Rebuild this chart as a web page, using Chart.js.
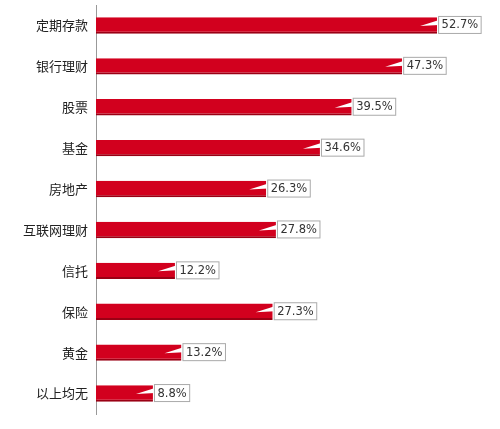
<!DOCTYPE html>
<html>
<head>
<meta charset="utf-8">
<script src="https://cdn.jsdelivr.net/npm/chart.js@4"></script>
<style>
  body { margin: 0; background: #fff; }
  #wrap { width: 500px; height: 429px; }
</style>
</head>
<body>
<div id="wrap"><canvas id="c"></canvas></div>
<script>
const categories = ["定期存款", "银行理财", "股票", "基金", "房地产", "互联网理财", "信托", "保险", "黄金", "以上均无"];
const shares = [52.7, 47.3, 39.5, 34.6, 26.3, 27.8, 12.2, 27.3, 13.2, 8.8];

// callout label boxes at bar ends
const calloutLabels = {
  id: "calloutLabels",
  afterDatasetsDraw(chart) {
    const ctx = chart.ctx;
    const meta = chart.getDatasetMeta(0);
    ctx.save();
    ctx.font = "11.5px 'DejaVu Sans', sans-serif";
    ctx.textBaseline = "middle";
    meta.data.forEach((bar, i) => {
      const txt = shares[i].toFixed(1) + "%";
      const w = ctx.measureText(txt).width + 6;
      const h = 17;
      const x = bar.x + 1, y = bar.y - h / 2 - 1;
      // little pointer
      ctx.fillStyle = "#fff";
      ctx.beginPath();
      ctx.moveTo(x + 1, y + 4);
      ctx.lineTo(x - 18, y + 10);
      ctx.lineTo(x + 1, y + 9);
      ctx.closePath();
      ctx.fill();
      ctx.fillRect(x, y, w, h);
      ctx.strokeStyle = "#aaa";
      ctx.lineWidth = 1;
      ctx.strokeRect(x + 0.5, y + 0.5, w, h);
      ctx.fillStyle = "#333";
      ctx.fillText(txt, x + 3.5, y + h / 2 + 1);
    });
    ctx.restore();
  }
};

new Chart(document.getElementById("c"), {
  type: "bar",
  data: {
    labels: categories,
    datasets: [{
      data: shares,
      backgroundColor: "#d2001e",
      borderColor: "#9a0014",
      borderWidth: { top: 0, bottom: 2, left: 0, right: 0 },
      borderSkipped: false,
      categoryPercentage: 1,
      barPercentage: 0.4
    }]
  },
  options: {
    indexAxis: "y",
    responsive: true,
    maintainAspectRatio: false,
    animation: false,
    layout: { padding: { top: 5, right: 48, bottom: 15, left: 0 } },
    plugins: { legend: { display: false }, tooltip: { enabled: false } },
    scales: {
      x: { min: 0, max: 55, display: false },
      y: {
        grid: { display: false, drawTicks: false },
        border: { display: true, color: "#999", width: 1 },
        ticks: { color: "#222", padding: 8, font: { size: 13, family: "'Noto Sans CJK SC', sans-serif" } },
        afterFit(scale) { scale.width = 96; scale.paddingTop = 0; scale.paddingBottom = 0; }
      }
    }
  },
  plugins: [calloutLabels]
});
</script>
</body>
</html>
